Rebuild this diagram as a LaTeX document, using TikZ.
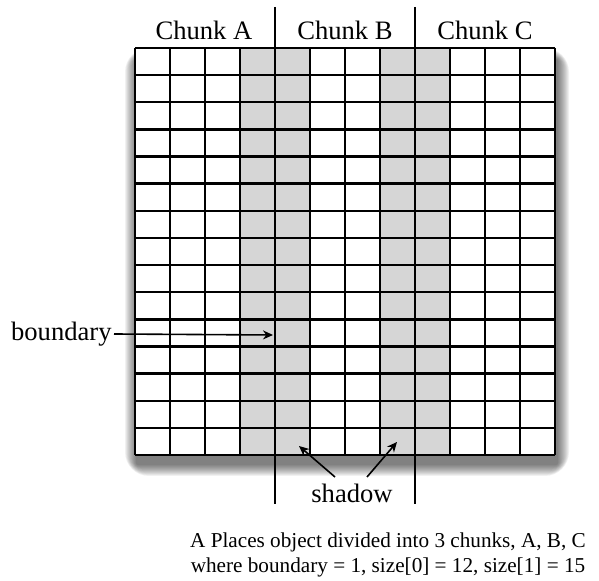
\documentclass[tikz,border=0pt]{standalone}
\usepackage{fontspec}
\setmainfont{Liberation Serif}
\usetikzlibrary{positioning,arrows.meta,calc}
\definecolor{cShadow}{HTML}{D6D6D6}

\tikzset{
  lbl/.style={inner sep=1pt,font=\fontsize{13.3}{16}\selectfont},
  caplbl/.style={inner sep=1pt,font=\fontsize{10.6}{12.6}\selectfont},
  gridline/.style={line width=1.2pt},
  chunkline/.style={line width=0.8pt},
  ptr/.style={-{Stealth[length=5pt,width=4.5pt]},line width=0.8pt}
}

\begin{document}
\begin{tikzpicture}[x=0.5pt,y=-0.5pt]
  \useasboundingbox (0,0) rectangle (599,581);
  % soft drop shadow under the grid
  \foreach \s in {1,...,12}{
    \fill[black,opacity=0.055,rounded corners=\s]
      ($(137,60)+(-\s,-\s)$) rectangle ($(557,464)+(\s,\s)$);
  }
  \fill[white] (135,48) rectangle (555,455);
  % shadow columns
  \foreach \c in {3,4,7,8}{
    \fill[cShadow] (135+\c*35,48) rectangle (135+\c*35+35,455);
  }
  % grid, 12 x 15
  \foreach \c in {0,...,12}{
    \draw[gridline] (135+\c*35,48) -- (135+\c*35,455);
  }
  \foreach \r in {0,...,15}{
    \draw[gridline] (135,48+\r*27.133) -- (555,48+\r*27.133);
  }
  % chunk dividers
  \draw[chunkline] (275,7) -- (275,504);
  \draw[chunkline] (415,7) -- (415,504);
  % labels
  \node[lbl] (chunkA) at (204,30) {Chunk A};
  \node[lbl] (chunkB) at (345,30) {Chunk B};
  \node[lbl] (chunkC) at (485,30) {Chunk C};
  \node[lbl,anchor=east] (bound) at (114,334) {boundary};
  \coordinate (boundTip) at (273,335);
  \draw[ptr] (bound.east) -- (boundTip);
  \node[lbl] (shadow) at (352,493) {shadow};
  \coordinate (shadowL) at (299,446);
  \coordinate (shadowR) at (397,442);
  \draw[ptr] (335,477) -- (shadowL);
  \draw[ptr] (367,477) -- (shadowR);
  \node[caplbl,align=center] (caption) at (388,555)
    {A Places object divided into 3 chunks, A, B, C\\
     where boundary = 1, size[0] = 12, size[1] = 15};
\end{tikzpicture}
\end{document}
